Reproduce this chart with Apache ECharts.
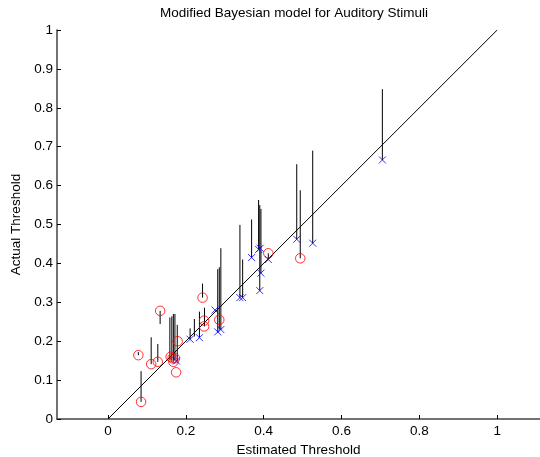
<!DOCTYPE html>
<html>
<head>
<meta charset="utf-8">
<script src="https://cdn.jsdelivr.net/npm/echarts@6/dist/echarts.min.js"></script>
<style>
html, body { margin: 0; padding: 0; background: #fff; }
#main { width: 540px; height: 457px; }
</style>
</head>
<body>
<div id="main"></div>
<script>
// red circles (estimated, actual)
var circleX = [0.085, 0.078, 0.111, 0.128, 0.134, 0.161, 0.166, 0.168, 0.172, 0.175, 0.179, 0.243, 0.247, 0.247, 0.286, 0.412, 0.494];
var circleY = [0.044, 0.164, 0.141, 0.147, 0.278, 0.160, 0.156, 0.147, 0.156, 0.120, 0.200, 0.312, 0.253, 0.238, 0.255, 0.426, 0.413];

// blue crosses
var crossX = [0.176, 0.211, 0.235, 0.275, 0.282, 0.290, 0.339, 0.346, 0.369, 0.387, 0.391, 0.393, 0.390, 0.412, 0.485, 0.526, 0.705];
var crossY = [0.149, 0.205, 0.209, 0.280, 0.224, 0.230, 0.312, 0.312, 0.415, 0.436, 0.439, 0.375, 0.330, 0.410, 0.462, 0.452, 0.666];

// vertical stems: x, from, to
var stemX    = [0.085, 0.078, 0.111, 0.128, 0.134, 0.159, 0.164, 0.168, 0.172, 0.178, 0.211, 0.222, 0.235, 0.248, 0.243, 0.282, 0.286, 0.290, 0.339, 0.346, 0.369, 0.387, 0.390, 0.393, 0.412, 0.485, 0.494, 0.526, 0.705];
var stemFrom = [0.044, 0.164, 0.141, 0.147, 0.278, 0.153, 0.150, 0.147, 0.150, 0.150, 0.205, 0.212, 0.209, 0.238, 0.312, 0.224, 0.230, 0.230, 0.312, 0.312, 0.415, 0.436, 0.330, 0.375, 0.410, 0.462, 0.413, 0.452, 0.666];
var stemTo   = [0.123, 0.172, 0.210, 0.193, 0.244, 0.261, 0.264, 0.270, 0.270, 0.242, 0.233, 0.257, 0.276, 0.286, 0.348, 0.385, 0.390, 0.439, 0.499, 0.410, 0.513, 0.563, 0.550, 0.540, 0.426, 0.655, 0.588, 0.690, 0.848];

var xTicks = [0, 0.2, 0.4, 0.6, 0.8, 1];

var FONT = 'Liberation Sans, Arial, sans-serif';
var FONT_SIZE = 13.5;
var AXIS_COLOR = '#444';

function zip(a, b) {
	var out = [];
	for (var i = 0; i < a.length; i++) { out.push([a[i], b[i]]); }
	return out;
}

var stems = [];
for (var i = 0; i < stemX.length; i++) {
	stems.push([stemX[i], stemFrom[i], stemTo[i]]);
}

var chart = echarts.init(document.getElementById('main'));
var option = {
	animation: false,
	backgroundColor: '#fff',
	graphic: [{
		type: 'text',
		style: {
			text: 'Modified Bayesian model for Auditory Stimuli',
			x: 294, y: 13,
			align: 'center', verticalAlign: 'middle',
			font: FONT_SIZE + 'px ' + FONT,
			fill: '#000'
		}
	}],
	grid: { left: 57, top: 30, width: 483, height: 389, outerBoundsMode: 'none', containLabel: false },
	xAxis: {
		type: 'value',
		min: -0.131, max: 1.11,
		name: 'Estimated Threshold',
		nameLocation: 'middle',
		nameGap: 19,
		nameTextStyle: { color: '#000', fontFamily: FONT, fontSize: FONT_SIZE },
		axisLine: { show: true, onZero: false, lineStyle: { color: AXIS_COLOR, width: 1.5 } },
		axisTick: { show: true, inside: true, length: 4, customValues: xTicks, lineStyle: { color: '#000' } },
		axisLabel: { customValues: xTicks, color: '#000', fontFamily: FONT, fontSize: FONT_SIZE, margin: 5 },
		splitLine: { show: false }
	},
	yAxis: {
		type: 'value',
		min: 0, max: 1, interval: 0.1,
		name: 'Actual Threshold',
		nameLocation: 'middle',
		nameGap: 27,
		nameTextStyle: { color: '#000', fontFamily: FONT, fontSize: FONT_SIZE },
		axisLine: { show: true, onZero: false, lineStyle: { color: AXIS_COLOR, width: 1.5 } },
		axisTick: { show: true, inside: true, length: 4, lineStyle: { color: '#000' } },
		axisLabel: { color: '#000', fontFamily: FONT, fontSize: FONT_SIZE, margin: 4 },
		splitLine: { show: false }
	},
	series: [
		{
			type: 'custom',
			data: stems,
			renderItem: function (params, api) {
				var p1 = api.coord([api.value(0), api.value(1)]);
				var p2 = api.coord([api.value(0), api.value(2)]);
				return {
					type: 'line',
					shape: { x1: p1[0], y1: p1[1], x2: p2[0], y2: p2[1] },
					style: { stroke: '#000', lineWidth: 1 }
				};
			},
			z: 1
		},
		{
			type: 'line',
			data: [[0, 0], [1, 1]],
			showSymbol: false,
			lineStyle: { color: '#000', width: 1 },
			z: 2
		},
		{
			type: 'scatter',
			data: zip(circleX, circleY),
			symbol: 'circle',
			symbolSize: 9.5,
			itemStyle: { color: 'rgba(0,0,0,0)', borderColor: '#ff0000', borderWidth: 1 },
			z: 3
		},
		{
			type: 'scatter',
			data: zip(crossX, crossY),
			symbol: 'path://M0,0L10,10M10,0L0,10',
			symbolSize: 7,
			itemStyle: { color: 'rgba(0,0,0,0)', borderColor: '#0000ff', borderWidth: 1 },
			z: 3
		}
	]
};
chart.setOption(option);
</script>
</body>
</html>
